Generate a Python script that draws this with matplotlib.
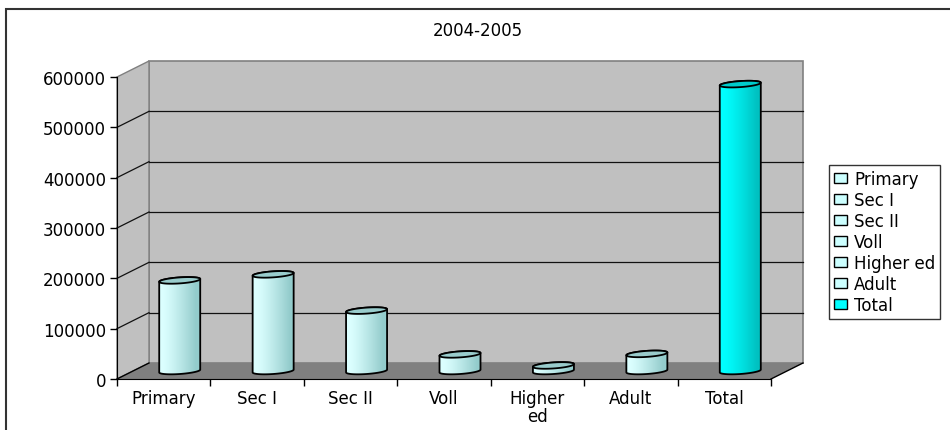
import numpy as np
import matplotlib
matplotlib.use('Agg')
import matplotlib.pyplot as plt
from matplotlib.patches import Polygon, Patch, Rectangle

plt.rcParams['font.family'] = ['DejaVu Sans']

# data
title = '2004-2005'
categories = ['Primary', 'Sec I', 'Sec II', 'Voll', 'Higher\ned', 'Adult', 'Total']
legend_labels = ['Primary', 'Sec I', 'Sec II', 'Voll', 'Higher ed', 'Adult', 'Total']
values = [180000, 192000, 120000, 33000, 11000, 34000, 570000]
y_ticks = [0, 100000, 200000, 300000, 400000, 500000, 600000]

# colours (light / dark side of the cylinder, top)
light_side = [(0.86, 1.0, 1.0), (0.58, 0.80, 0.80), '#99CCCC']
total_side = [(0.0, 1.0, 1.0), (0.0, 0.76, 0.76), '#00CCCC']
fs = 12

W, H = 950, 431
fig = plt.figure(figsize=(W / 100, H / 100), dpi=100)
x0, x1, yb, yt = 117, 771, 380, 78
ax = fig.add_axes([x0 / W, 1 - yb / H, (x1 - x0) / W, (yb - yt) / H])
n = len(categories)
ymax = y_ticks[-1]
ax.set_xlim(-0.5, n - 0.5)
ax.set_ylim(0, ymax)
ax.patch.set_visible(False)

# pixel -> data helpers and depth offset
px = n / (x1 - x0)
py = ymax / (yb - yt)
ddx, ddy = 32 * px, 16 * py
xl, xr = -0.5, n - 0.5

# walls and floor
ax.add_patch(Polygon([(xl + ddx, ddy), (xr + ddx, ddy), (xr + ddx, ymax + ddy), (xl + ddx, ymax + ddy)],
                     closed=True, fc='#C0C0C0', ec='#808080', lw=1.2, clip_on=False, zorder=1))
ax.add_patch(Polygon([(xl, 0), (xl, ymax), (xl + ddx, ymax + ddy), (xl + ddx, ddy)],
                     closed=True, fc='#C0C0C0', ec='#808080', lw=1.0, clip_on=False, zorder=1))
ax.add_patch(Polygon([(xl, 0), (xr, 0), (xr + ddx, ddy), (xl + ddx, ddy)],
                     closed=True, fc='#808080', ec='none', clip_on=False, zorder=1))
for v in y_ticks[1:-1]:
    ax.plot([xl + ddx, xr + ddx], [v + ddy, v + ddy], color='#111111', lw=0.9, zorder=2, clip_on=False)
    ax.plot([xl, xl + ddx], [v, v + ddy], color='#111111', lw=0.9, zorder=2, clip_on=False)
ax.plot([xl, xl + ddx], [0, ddy], color='black', lw=1.0, zorder=2, clip_on=False)
ax.plot([xr, xr + ddx], [0, ddy], color='black', lw=1.0, zorder=2, clip_on=False)

# cylinders
r = 20.5 * px
ey, sh = 3.0 * py, 1.4 * py
t_front = np.linspace(np.pi, 2 * np.pi, 60)
t_back = np.linspace(0, np.pi, 60)
t_all = np.linspace(0, 2 * np.pi, 120)
for i, v in enumerate(values):
    c1, c2, ctop = total_side if categories[i] == 'Total' else light_side
    cx = i + ddx / 2
    base = ddy / 2
    top = v + ddy / 2
    bx = cx + r * np.cos(t_front)
    by = base + ey * np.sin(t_front) + sh * np.cos(t_front)
    tx = cx + r * np.cos(t_back)
    ty = top + ey * np.sin(t_back) + sh * np.cos(t_back)
    pts = np.column_stack([np.concatenate([bx, tx]), np.concatenate([by, ty])])
    body = Polygon(pts, closed=True, fc='none', ec='black', lw=1.3, zorder=4, clip_on=False)
    ax.add_patch(body)
    s = np.linspace(0, 1, 200)
    f = np.clip((s - 0.1) / 0.8, 0, 1) ** 1.2
    grad = np.array([[np.array(c1) * (1 - k) + np.array(c2) * k for k in f]])
    im = ax.imshow(grad, extent=[cx - r, cx + r, base - ey - sh, top + ey + sh],
                   aspect='auto', origin='lower', zorder=3, interpolation='bilinear')
    im.set_clip_path(body)
    ex = cx + r * np.cos(t_all)
    eyy = top + ey * np.sin(t_all) + sh * np.cos(t_all)
    ax.add_patch(Polygon(np.column_stack([ex, eyy]), closed=True, fc=ctop, ec='black',
                         lw=1.3, zorder=5, clip_on=False))

ax.set_xlim(-0.5, n - 0.5)
ax.set_ylim(0, ymax)

# axes, ticks
for s_ in ['top', 'right']:
    ax.spines[s_].set_visible(False)
ax.spines['left'].set_color('black')
ax.spines['bottom'].set_color('black')
ax.spines['left'].set_zorder(6)
ax.set_yticks(y_ticks)
ax.set_yticklabels([str(v) for v in y_ticks], fontsize=fs)
ax.tick_params(axis='y', direction='out', length=5, width=1, pad=3)
ax.set_xticks(np.arange(n + 1) - 0.5)
ax.set_xticklabels([])
ax.set_xticks(np.arange(n), minor=True)
ax.set_xticklabels(categories, minor=True, fontsize=fs, linespacing=1.0)
ax.tick_params(axis='x', which='major', direction='out', length=5, width=1)
ax.tick_params(axis='x', which='minor', length=0, pad=7)

# legend
handles = [Patch(fc='#00FFFF' if lab == 'Total' else '#CCFFFF', ec='black', lw=1) for lab in legend_labels]
leg = fig.legend(handles, legend_labels, loc='upper left', bbox_to_anchor=(829 / W, 1 - 166 / H),
                 frameon=True, fancybox=False, fontsize=fs, handlelength=0.75, handleheight=0.6,
                 handletextpad=0.45, labelspacing=0.18, borderpad=0.3, borderaxespad=0)
leg.get_frame().set_edgecolor('black')
leg.get_frame().set_linewidth(1)

# title and outer border
fig.text(478 / W, 1 - 31 / H, title, ha='center', va='center', fontsize=fs)
fig.patches.append(Rectangle((6 / W, -0.1), 1.2, 1.1 - 10 / H, transform=fig.transFigure,
                             fill=False, ec='#333333', lw=1.5))

fig.savefig('out.png', dpi=100)
